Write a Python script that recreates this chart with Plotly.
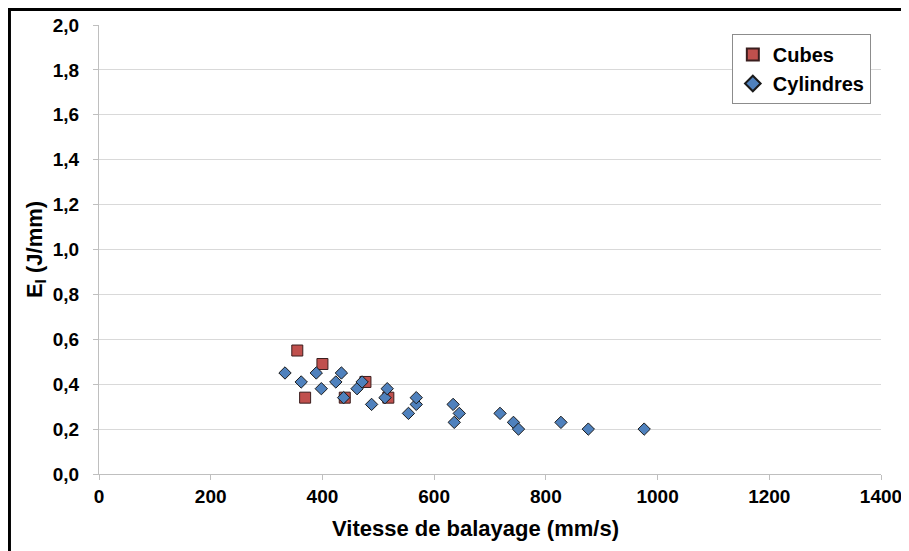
import plotly.graph_objects as go

# Data
cubes_x = [355, 369, 400, 440, 477, 518]
cubes_y = [0.55, 0.34, 0.49, 0.34, 0.41, 0.34]

cyl_x = [333, 362, 389, 398, 424, 434, 438, 462, 471, 488, 512, 516,
         554, 568, 568, 634, 636, 645, 718, 742, 751, 827, 876, 976]
cyl_y = [0.45, 0.41, 0.45, 0.38, 0.41, 0.45, 0.34, 0.38, 0.41, 0.31, 0.34, 0.38,
         0.27, 0.31, 0.34, 0.31, 0.23, 0.27, 0.27, 0.23, 0.20, 0.23, 0.20, 0.20]

x_ticks = [0, 200, 400, 600, 800, 1000, 1200, 1400]
y_ticks = [0.0, 0.2, 0.4, 0.6, 0.8, 1.0, 1.2, 1.4, 1.6, 1.8, 2.0]

FONT = "Liberation Sans, Arial, sans-serif"
TICK = dict(family=FONT, size=19, color="black", weight="bold")
TITLE = dict(family=FONT, size=22, color="black", weight="bold")

fig = go.Figure()
fig.add_trace(go.Scatter(
    x=cubes_x, y=cubes_y, mode="markers", name="Cubes", legendgroup="a",
    marker=dict(symbol="square", size=11, color="#C0504D",
                line=dict(color="#3a1e1e", width=1)),
))
fig.add_trace(go.Scatter(
    x=cyl_x, y=cyl_y, mode="markers", name="Cylindres", legendgroup="b",
    marker=dict(symbol="diamond", size=9.5, color="#4F81BD",
                line=dict(color="#1a1a1a", width=1)),
))

fig.update_layout(
    width=901, height=543,
    margin=dict(l=91, r=28, t=17, b=77),
    paper_bgcolor="white", plot_bgcolor="white",
    separators=",.",
    font=dict(family=FONT, size=16, color="black"),
    showlegend=True,
    legend=dict(
        x=0.987, y=0.98, xanchor="right", yanchor="top",
        bordercolor="#8c8c8c", borderwidth=1, bgcolor="white",
        font=dict(family=FONT, size=20, color="black", weight="bold"),
        tracegroupgap=0, itemsizing="constant", itemwidth=30,
    ),
    xaxis=dict(
        range=[0, 1400], tickvals=x_ticks, tickformat="d", automargin=False,
        showgrid=False, zeroline=False,
        showline=True, linecolor="#bfbfbf", linewidth=1,
        ticks="outside", ticklen=5, tickcolor="#bfbfbf",
        tickfont=TICK,
    ),
    yaxis=dict(
        range=[0, 2.0], tickvals=y_ticks, tickformat=".1f", automargin=False,
        showgrid=True, gridcolor="#d9d9d9", gridwidth=1, zeroline=False,
        showline=True, linecolor="#bfbfbf", linewidth=1,
        ticks="outside", ticklen=5, tickcolor="#bfbfbf",
        ticklabelstandoff=10,
        tickfont=TICK,
        title=dict(text="E<sub>l</sub> (J/mm)", standoff=4, font=TITLE),
    ),
    annotations=[dict(
        text="Vitesse de balayage (mm/s)", xref="paper", yref="paper",
        x=0.481, y=-0.121, xanchor="center", yanchor="middle",
        showarrow=False, font=TITLE,
    )],
    shapes=[dict(
        type="rect", xref="paper", yref="paper",
        x0=-0.1145, x1=1.1, y0=-0.3, y1=1.0345,
        line=dict(color="black", width=3), fillcolor="rgba(0,0,0,0)",
        layer="above",
    )],
)

fig.write_html("out.html")
